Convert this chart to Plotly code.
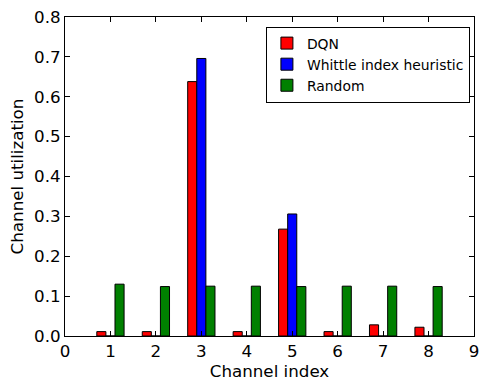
import plotly.graph_objects as go

channels = [1, 2, 3, 4, 5, 6, 7, 8]
dqn = [0.011, 0.011, 0.638, 0.011, 0.268, 0.011, 0.028, 0.022]
whittle = [0, 0, 0.696, 0, 0.306, 0, 0, 0]
random_pol = [0.130, 0.124, 0.125, 0.125, 0.124, 0.125, 0.125, 0.124]

font = "DejaVu Sans"
fig = go.Figure()
for name, vals, col, off in [("DQN", dqn, "#ff0000", -0.3),
                             ("Whittle index heuristic", whittle, "#0000ff", -0.1),
                             ("Random", random_pol, "#008000", 0.1)]:
    fig.add_trace(go.Bar(x=channels, y=vals, name=name, width=0.2, offset=off,
                         marker=dict(color=col, line=dict(color="black", width=1))))

axis_common = dict(showline=True, linecolor="black", linewidth=1, mirror="ticks",
                   ticks="inside", ticklen=5, tickcolor="black", showgrid=False,
                   zeroline=False, tickfont=dict(family=font, size=16.7, color="black"))
fig.update_layout(
    width=484, height=381, margin=dict(l=65, r=5, t=17, b=43),
    paper_bgcolor="white", plot_bgcolor="white", barmode="overlay",
    xaxis=dict(range=[0, 9], tickvals=list(range(10)), **axis_common,
               title=dict(text="Channel index", font=dict(family=font, size=16.7, color="black"), standoff=3)),
    yaxis=dict(range=[0, 0.8], tickvals=[0.0, 0.1, 0.2, 0.3, 0.4, 0.5, 0.6, 0.7, 0.8],
               ticktext=["0.0", "0.1", "0.2", "0.3", "0.4", "0.5", "0.6", "0.7", "0.8"], **axis_common,
               title=dict(text="Channel utilization", font=dict(family=font, size=16.7, color="black"), standoff=6)),
    legend=dict(x=0.99, y=0.97, xanchor="right", yanchor="top", bgcolor="white",
                bordercolor="black", borderwidth=1, font=dict(family=font, size=13.9, color="black"),
                itemwidth=30, tracegroupgap=0),
    showlegend=True,
)
fig.write_html("out.html")
